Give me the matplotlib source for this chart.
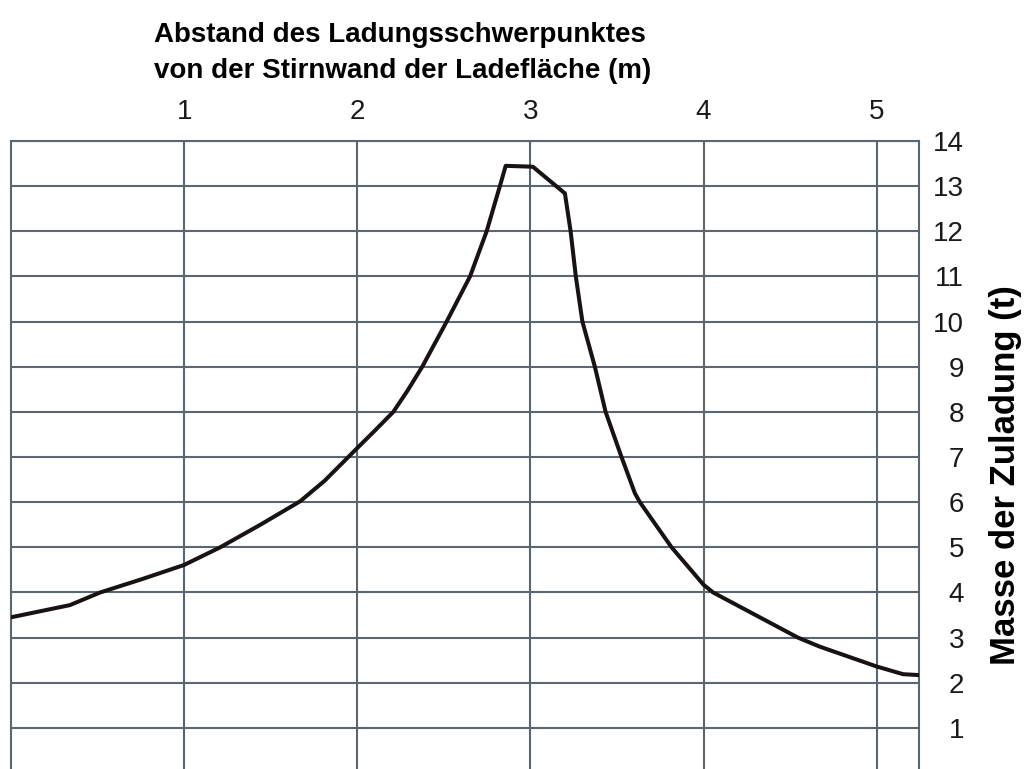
import numpy as np
import matplotlib
matplotlib.use("Agg")
import matplotlib.pyplot as plt

# distance of load centre of gravity from front wall (m) / mass of payload (t)
abstand = [0.0, 0.34, 0.515, 0.76, 1.0, 1.208, 1.44, 1.67, 1.81, 1.948, 2.0,
           2.1, 2.208, 2.29, 2.375, 2.516, 2.651, 2.747, 2.834, 2.857, 3.014,
           3.199, 3.232, 3.262, 3.30, 3.372, 3.434, 3.526, 3.603, 3.632, 3.815,
           4.0, 4.055, 4.30, 4.545, 4.671, 5.0, 5.152, 5.244]
masse = [3.45, 3.72, 4.0, 4.3, 4.61, 5.0, 5.5, 6.02, 6.47, 7.0, 7.2,
         7.58, 8.0, 8.47, 9.0, 10.0, 11.0, 12.0, 13.14, 13.45, 13.43,
         12.84, 12.0, 11.0, 10.0, 9.0, 8.0, 7.0, 6.2, 6.0, 5.0,
         4.17, 4.0, 3.5, 3.0, 2.8, 2.36, 2.19, 2.17]
x_ticks = [1, 2, 3, 4, 5]
y_ticks = list(range(1, 15))

plt.rcParams['font.family'] = ['Liberation Sans', 'DejaVu Sans']
gridcol = '#5b6670'

fig = plt.figure(figsize=(10.25, 7.69), dpi=100)
ax = fig.add_axes([11/1025, 0, 908/1025, 628/769])

ax.plot(abstand, masse, color='#181212', lw=2.9, solid_joinstyle='round', zorder=3)

ax.set_xlim(0, 5.244)
ax.set_ylim(0.09, 14)
ax.set_xticks(x_ticks)
ax.set_yticks(y_ticks)
ax.grid(True, color=gridcol, lw=1.5)
ax.set_axisbelow(True)

ax.xaxis.tick_top()
ax.yaxis.tick_right()
ax.tick_params(axis='x', length=0, pad=11.5, labelsize=20, colors='#1a1a1a')
ax.tick_params(axis='y', length=0, pad=32.5, labelsize=20, colors='#1a1a1a')
for lab in ax.get_yticklabels():
    lab.set_horizontalalignment('right')

for s in ['left', 'right', 'top']:
    ax.spines[s].set_color(gridcol)
    ax.spines[s].set_linewidth(1.5)
ax.spines['bottom'].set_visible(False)

fig.text(400/1025, 1 - 41.7/769, "Abstand des Ladungsschwerpunktes",
         ha='center', va='baseline', fontsize=20, fontweight='bold')
fig.text(403/1025, 1 - 78/769, "von der Stirnwand der Ladefläche (m)",
         ha='center', va='baseline', fontsize=20, fontweight='bold')
fig.text(1006/1025, 1 - 475/769, "Masse der Zuladung (t)", rotation=90,
         ha='center', va='center', fontsize=25, fontweight='bold')

fig.savefig("out.png", dpi=100)
